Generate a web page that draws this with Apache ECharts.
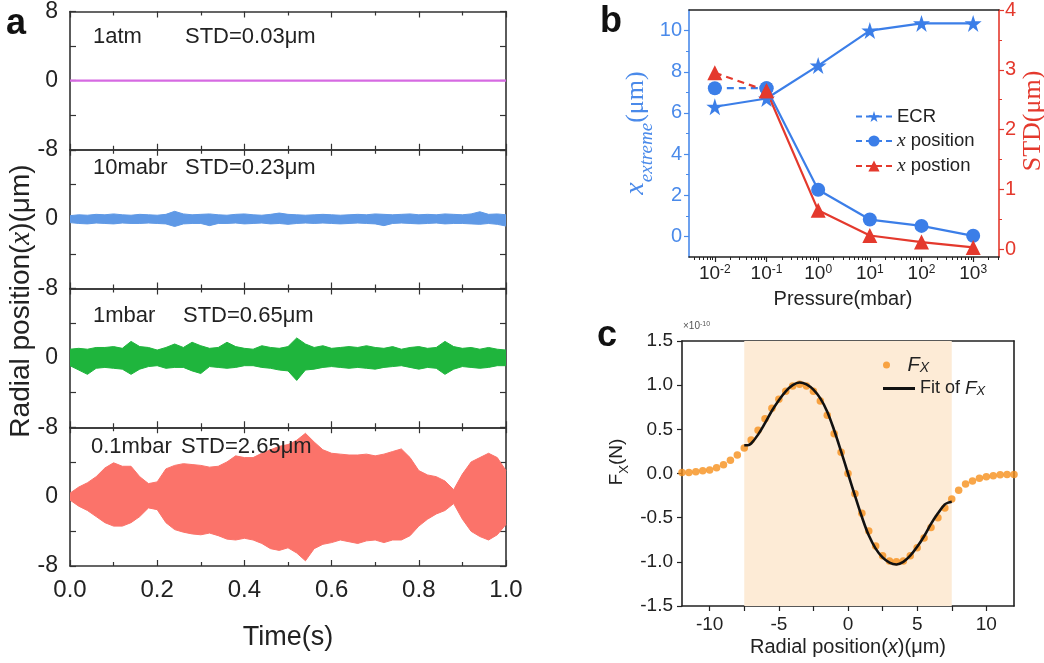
<!DOCTYPE html>
<html>
<head>
<meta charset="utf-8">
<script src="https://cdn.jsdelivr.net/npm/echarts@6.0.0/dist/echarts.min.js"></script>
<style>html,body{margin:0;padding:0;background:#fff;}#chart{width:1044px;height:663px;}</style>
</head>
<body>
<div id="chart"></div>
<script>
// ================= Panel a: radial position traces (envelopes) =================
const timeS = [0,0.02,0.04,0.06,0.08,0.10,0.12,0.14,0.16,0.18,0.20,0.22,0.24,0.26,0.28,0.30,0.32,0.34,0.36,0.38,0.40,0.42,0.44,0.46,0.48,0.50,0.52,0.54,0.56,0.58,0.60,0.62,0.64,0.66,0.68,0.70,0.72,0.74,0.76,0.78,0.80,0.82,0.84,0.86,0.88,0.90,0.92,0.94,0.96,0.98,1.00];
const atmTime = [0, 1];
const atmX = [0, 0];
const mbar10Upper = [0.4,0.5,0.45,0.55,0.5,0.6,0.5,0.45,0.55,0.5,0.45,0.55,0.9,0.6,0.5,0.55,0.6,0.5,0.45,0.55,0.6,0.5,0.45,0.55,0.7,0.55,0.5,0.45,0.5,0.55,0.5,0.45,0.5,0.55,0.5,0.6,0.55,0.5,0.55,0.6,0.5,0.55,0.5,0.6,0.55,0.5,0.6,0.85,0.55,0.6,0.5];
const mbar10Lower = [-0.4,-0.5,-0.55,-0.45,-0.5,-0.55,-0.45,-0.5,-0.5,-0.45,-0.5,-0.55,-0.85,-0.55,-0.5,-0.5,-0.75,-0.5,-0.5,-0.45,-0.55,-0.5,-0.45,-0.55,-0.5,-0.6,-0.5,-0.45,-0.5,-0.45,-0.5,-0.55,-0.5,-0.45,-0.5,-0.55,-0.75,-0.5,-0.45,-0.5,-0.55,-0.5,-0.45,-0.55,-0.5,-0.5,-0.55,-0.6,-0.5,-0.6,-0.8];
const mbar1Upper = [1.0,1.1,1.0,1.2,1.2,1.3,1.1,1.9,1.3,1.2,0.9,1.2,1.6,1.2,1.8,1.4,1.1,1.2,1.8,1.3,1.1,1.0,1.4,1.2,1.1,1.3,2.3,1.6,1.2,1.4,1.1,1.2,1.3,1.2,1.4,1.2,1.1,1.3,1.0,1.2,1.3,1.1,1.2,1.9,1.3,1.1,1.2,1.0,1.2,1.0,0.9];
const mbar1Lower = [-0.9,-1.4,-1.9,-1.2,-1.1,-1.2,-1.3,-1.9,-1.3,-1.0,-0.9,-1.2,-1.1,-1.1,-1.5,-1.8,-1.0,-1.1,-1.2,-1.1,-0.9,-0.9,-1.1,-1.2,-1.4,-1.5,-2.6,-1.4,-1.3,-1.1,-1.0,-1.1,-1.2,-1.1,-1.2,-1.3,-1.1,-1.0,-0.9,-1.1,-1.3,-1.1,-1.2,-1.9,-1.3,-1.0,-1.1,-1.2,-1.1,-0.9,-0.9];
const mbar01Upper = [0.4,1.1,1.6,2.3,3.3,3.9,3.5,3.5,2.3,1.5,1.7,3.2,3.6,3.8,3.7,3.6,3.4,3.5,4.0,4.7,4.5,4.5,5.0,5.4,5.8,6.0,6.5,7.3,6.3,5.4,5.0,4.9,4.8,4.8,4.9,4.7,4.9,5.2,5.5,4.5,3.0,2.5,2.3,1.8,0.8,2.6,4.0,4.5,5.0,4.5,3.0];
const mbar01Lower = [-0.4,-1.1,-1.6,-2.3,-3.0,-3.4,-3.4,-3.0,-2.3,-1.3,-1.5,-3.0,-3.8,-4.1,-4.3,-4.4,-4.2,-4.5,-4.9,-5.0,-4.8,-5.0,-5.4,-6.0,-6.2,-5.9,-6.5,-7.4,-6.0,-5.5,-5.3,-5.0,-5.2,-5.4,-5.1,-5.0,-5.3,-5.0,-5.0,-4.5,-3.4,-2.6,-2.0,-1.6,-0.8,-2.6,-4.0,-4.6,-5.0,-4.4,-3.2];
const aPanelLabels = [['1atm','STD=0.03\u03bcm'],['10mabr','STD=0.23\u03bcm'],['1mbar','STD=0.65\u03bcm'],['0.1mbar','STD=2.65\u03bcm']];

// ================= Panel b =================
const pressureMbar = [0.01, 0.1, 1, 10, 100, 1000];
const ecrExtreme = [6.3, 6.7, 8.3, 10.0, 10.35, 10.35];
const xPositionExtreme = [7.2, 7.2, 2.27, 0.82, 0.51, 0.03];
const stdValues = [2.95, 2.65, 0.65, 0.23, 0.12, 0.03];
const bLeftTicks = [0, 2, 4, 6, 8, 10];
const bLeftMinor = [1, 3, 5, 7, 9];
const bRightTicks = [0, 1, 2, 3, 4];
const bRightMinor = [0.5, 1.5, 2.5, 3.5];
const bDecades = [-2, -1, 0, 1, 2, 3];

// ================= Panel c =================
const fxPosition = [-12,-11.5,-11,-10.5,-10,-9.5,-9,-8.5,-8,-7.5,-7,-6.5,-6,-5.5,-5,-4.5,-4,-3.5,-3,-2.5,-2,-1.5,-1,-0.5,0,0.5,1,1.5,2,2.5,3,3.5,4,4.5,5,5.5,6,6.5,7,7.5,8,8.5,9,9.5,10,10.5,11,11.5,12];
const fxForce = [0.01,0.01,0.02,0.03,0.04,0.065,0.10,0.15,0.21,0.29,0.38,0.49,0.62,0.74,0.84,0.93,0.99,1.01,0.99,0.93,0.82,0.66,0.45,0.24,0.0,-0.23,-0.45,-0.65,-0.82,-0.93,-0.99,-1.0,-0.99,-0.93,-0.84,-0.73,-0.61,-0.5,-0.39,-0.29,-0.19,-0.12,-0.085,-0.055,-0.037,-0.025,-0.015,-0.01,-0.01];
const fitPosition = [-7.5,-7.25,-7,-6.5,-6,-5.5,-5,-4.5,-4,-3.5,-3,-2.5,-2,-1.5,-1,-0.5,0,0.5,1,1.5,2,2.5,3,3.5,4,4.5,5,5.5,6,6.5,7,7.25,7.5];
const fitForce = [0.32,0.32,0.34,0.44,0.57,0.71,0.83,0.93,1.0,1.03,1.01,0.95,0.85,0.70,0.49,0.25,0.0,-0.25,-0.49,-0.70,-0.85,-0.95,-1.01,-1.03,-1.0,-0.93,-0.83,-0.71,-0.57,-0.45,-0.35,-0.33,-0.32];
const cXLabels = [-10, -5, 0, 5, 10];
const cXTicks = [-10, -7.5, -5, -2.5, 0, 2.5, 5, 7.5, 10];
const shadeRange = [-7.5, 7.5];

// ================= Build chart =================
const FONT = 'Liberation Sans, Arial, Helvetica, sans-serif';
const SERIF = 'Liberation Serif, Times New Roman, serif';
const FRAME = '#333';
const BLUE = '#3b7ee8';
const BLUE_AX = '#4a8aea';
const RED = '#e4392d';
const zip = (xs, ys) => xs.map((x, i) => [x, ys[i]]);

const aTops = [11, 149.75, 288.5, 427.25];
const aH = 138.75;
const grids = aTops.map(t => ({ left: 70, width: 436, top: t, height: aH }));
grids.push({ left: 689, width: 310, top: 7, height: 250 });
grids.push({ left: 682, width: 332, top: 341, height: 265 });

const lineSt = (c, w) => ({ color: c, width: w });
const xAxes = [], yAxes = [];
for (let i = 0; i < 4; i++) {
  xAxes.push({ type: 'value', gridIndex: i, position: 'bottom', min: 0, max: 1, interval: 0.2,
    axisLine: { show: true, onZero: false, lineStyle: lineSt(FRAME, 1.6) },
    axisTick: { show: true, inside: true, length: 6, lineStyle: lineSt(FRAME, 1.2) },
    minorTick: { show: true, splitNumber: 2, length: 4, lineStyle: lineSt(FRAME, 1.2) },
    splitLine: { show: false }, minorSplitLine: { show: false },
    axisLabel: { show: i === 3, margin: 12, fontSize: 24, color: '#222', fontFamily: FONT, formatter: v => v.toFixed(1) } });
}
for (let i = 0; i < 4; i++) {
  xAxes.push({ type: 'value', gridIndex: i, position: 'top', min: 0, max: 1, interval: 0.2,
    axisLine: { show: true, onZero: false, lineStyle: lineSt(FRAME, 1.6) },
    axisTick: { show: true, inside: true, length: 6, lineStyle: lineSt(FRAME, 1.2) },
    minorTick: { show: true, splitNumber: 2, length: 4, lineStyle: lineSt(FRAME, 1.2) },
    splitLine: { show: false }, axisLabel: { show: false } });
}
const bMinorX = [];
for (let d = -3; d <= 3; d++) for (let k = 2; k <= 9; k++) { const v = d + Math.log10(k); if (v > -2.5 && v < 3.5) bMinorX.push(v); }
xAxes.push({ type: 'value', gridIndex: 4, position: 'bottom', min: -2.5, max: 3.5,
  axisLine: { show: true, onZero: false, lineStyle: lineSt('#222', 1.6) },
  axisTick: { show: true, length: 5, customValues: bDecades, lineStyle: lineSt('#222', 1.2) },
  splitLine: { show: false },
  axisLabel: { customValues: bDecades, margin: 7, fontSize: 19, color: '#222', fontFamily: FONT,
    formatter: v => '10{sup|' + Math.round(v) + '}',
    rich: { sup: { fontSize: 12, fontFamily: FONT, color: '#222', verticalAlign: 'top', padding: [0, 0, 8, 0] } } } });
xAxes.push({ type: 'value', gridIndex: 4, position: 'bottom', min: -2.5, max: 3.5,
  axisLine: { show: false, onZero: false }, axisLabel: { show: false }, splitLine: { show: false },
  axisTick: { show: true, length: 3, customValues: bMinorX, lineStyle: lineSt('#222', 1) } });
xAxes.push({ type: 'value', gridIndex: 4, position: 'top', min: -2.5, max: 3.5,
  axisLine: { show: true, onZero: false, lineStyle: lineSt('#222', 1.6) }, axisTick: { show: false },
  axisLabel: { show: false }, splitLine: { show: false } });
xAxes.push({ type: 'value', gridIndex: 5, position: 'bottom', min: -12, max: 12,
  axisLine: { show: true, onZero: false, lineStyle: lineSt('#222', 1.6) },
  axisTick: { show: true, length: 5, customValues: cXTicks, lineStyle: lineSt('#222', 1.2) },
  splitLine: { show: false },
  axisLabel: { customValues: cXLabels, margin: 9, fontSize: 19, color: '#222', fontFamily: FONT } });
xAxes.push({ type: 'value', gridIndex: 5, position: 'top', min: -12, max: 12,
  axisLine: { show: true, onZero: false, lineStyle: lineSt('#222', 1.6) }, axisTick: { show: false },
  axisLabel: { show: false }, splitLine: { show: false } });

for (let i = 0; i < 4; i++) {
  yAxes.push({ type: 'value', gridIndex: i, position: 'left', min: -8, max: 8, interval: 4,
    axisLine: { show: true, onZero: false, lineStyle: lineSt(FRAME, 1.6) },
    axisTick: { show: true, inside: true, length: 6, lineStyle: lineSt(FRAME, 1.2) },
    splitLine: { show: false },
    axisLabel: { margin: 12, fontSize: 23, color: '#222', fontFamily: FONT,
      formatter: v => (v === 0 || v === -8 || (v === 8 && i === 0)) ? String(v) : '' } });
}
for (let i = 0; i < 4; i++) {
  yAxes.push({ type: 'value', gridIndex: i, position: 'right', min: -8, max: 8, interval: 4,
    axisLine: { show: true, onZero: false, lineStyle: lineSt(FRAME, 1.6) },
    axisTick: { show: true, inside: true, length: 6, lineStyle: lineSt(FRAME, 1.2) },
    splitLine: { show: false }, axisLabel: { show: false } });
}
yAxes.push({ type: 'value', gridIndex: 4, position: 'left', min: -1, max: 11,
  axisLine: { show: true, onZero: false, lineStyle: lineSt(BLUE_AX, 1.6) },
  axisTick: { show: true, length: 5, customValues: bLeftTicks, lineStyle: lineSt(BLUE_AX, 1.2) },
  splitLine: { show: false },
  axisLabel: { customValues: bLeftTicks, margin: 7, fontSize: 20, color: BLUE_AX, fontFamily: FONT } });
yAxes.push({ type: 'value', gridIndex: 4, position: 'left', min: -1, max: 11,
  axisLine: { show: false, onZero: false }, axisLabel: { show: false }, splitLine: { show: false },
  axisTick: { show: true, length: 3, customValues: bLeftMinor, lineStyle: lineSt(BLUE_AX, 1) } });
yAxes.push({ type: 'value', gridIndex: 4, position: 'right', min: -0.13, max: 4,
  axisLine: { show: true, onZero: false, lineStyle: lineSt(RED, 1.6) },
  axisTick: { show: true, length: 5, customValues: bRightTicks, lineStyle: lineSt(RED, 1.2) },
  splitLine: { show: false },
  axisLabel: { customValues: bRightTicks, margin: 6, fontSize: 20, color: RED, fontFamily: FONT } });
yAxes.push({ type: 'value', gridIndex: 4, position: 'right', min: -0.13, max: 4,
  axisLine: { show: false, onZero: false }, axisLabel: { show: false }, splitLine: { show: false },
  axisTick: { show: true, length: 3, customValues: bRightMinor, lineStyle: lineSt(RED, 1) } });
yAxes.push({ type: 'value', gridIndex: 5, position: 'left', min: -1.5, max: 1.5, interval: 0.5,
  axisLine: { show: true, onZero: false, lineStyle: lineSt('#222', 1.6) },
  axisTick: { show: true, length: 5, lineStyle: lineSt('#222', 1.2) },
  splitLine: { show: false },
  axisLabel: { margin: 9, fontSize: 19, color: '#222', fontFamily: FONT, formatter: v => v.toFixed(1) } });
yAxes.push({ type: 'value', gridIndex: 5, position: 'right', min: -1.5, max: 1.5,
  axisLine: { show: true, onZero: false, lineStyle: lineSt('#222', 1.6) }, axisTick: { show: false },
  axisLabel: { show: false }, splitLine: { show: false } });

const series = [];
series.push({ type: 'line', name: '1atm', xAxisIndex: 0, yAxisIndex: 0, data: zip(atmTime, atmX),
  symbol: 'none', lineStyle: { color: '#d66ae2', width: 2.2 }, silent: true });
const bands = [
  [1, mbar10Upper, mbar10Lower, '#5f99e6'],
  [2, mbar1Upper, mbar1Lower, '#1fb53d'],
  [3, mbar01Upper, mbar01Lower, '#fb736a']
];
bands.forEach(([gi, up, lo, col]) => {
  series.push({ type: 'line', xAxisIndex: gi, yAxisIndex: gi, data: zip(timeS, up), symbol: 'none', silent: true,
    lineStyle: { color: col, width: 1 }, areaStyle: { color: col, opacity: 1, origin: 0 } });
  series.push({ type: 'line', xAxisIndex: gi, yAxisIndex: gi, data: zip(timeS, lo), symbol: 'none', silent: true,
    lineStyle: { color: col, width: 1 }, areaStyle: { color: col, opacity: 1, origin: 0 },
    markLine: { silent: true, symbol: 'none', label: { show: false }, lineStyle: { color: col, width: 2, type: 'solid' },
      data: [{ yAxis: 0 }] } });
});
const logP = pressureMbar.map(p => Math.log10(p));
const STAR = 'path://M50 0 L61.2 34.5 L97.6 34.5 L68.2 55.9 L79.4 90.5 L50 69.1 L20.6 90.5 L31.8 55.9 L2.4 34.5 L38.8 34.5 Z';
series.push({ type: 'line', name: 'ECR', xAxisIndex: 8, yAxisIndex: 8, data: zip(logP, ecrExtreme),
  symbol: STAR, symbolSize: 17, itemStyle: { color: BLUE }, lineStyle: { color: BLUE, width: 2.2 }, z: 3 });
series.push({ type: 'line', name: 'x position', xAxisIndex: 8, yAxisIndex: 8, data: zip(logP, xPositionExtreme).slice(1),
  symbol: 'circle', symbolSize: 14, itemStyle: { color: BLUE }, lineStyle: { color: BLUE, width: 2.2 }, z: 3 });
series.push({ type: 'line', name: 'x position', xAxisIndex: 8, yAxisIndex: 8, data: zip(logP, xPositionExtreme).slice(0, 2),
  symbol: 'circle', symbolSize: 14, itemStyle: { color: BLUE }, lineStyle: { color: BLUE, width: 2.2, type: [7, 5] }, z: 3 });
series.push({ type: 'line', name: 'x postion', xAxisIndex: 8, yAxisIndex: 10, data: zip(logP, stdValues).slice(1),
  symbol: 'triangle', symbolSize: 15, itemStyle: { color: RED }, lineStyle: { color: RED, width: 2.2 }, z: 3 });
series.push({ type: 'line', name: 'x postion', xAxisIndex: 8, yAxisIndex: 10, data: zip(logP, stdValues).slice(0, 2),
  symbol: 'triangle', symbolSize: 15, itemStyle: { color: RED }, lineStyle: { color: RED, width: 2.2, type: [7, 5] }, z: 3 });
series.push({ type: 'line', name: 'shade', xAxisIndex: 11, yAxisIndex: 12, data: [], z: 1, silent: true,
  markArea: { silent: true, itemStyle: { color: '#fdebd6' }, data: [[{ xAxis: shadeRange[0] }, { xAxis: shadeRange[1] }]] } });
series.push({ type: 'scatter', name: 'Fx', xAxisIndex: 11, yAxisIndex: 12, data: zip(fxPosition, fxForce),
  symbol: 'circle', symbolSize: 7.5, itemStyle: { color: '#f6901c' }, z: 3 });
series.push({ type: 'line', name: 'Fit', xAxisIndex: 11, yAxisIndex: 12, data: zip(fitPosition, fitForce),
  symbol: 'none', smooth: 0.35, lineStyle: { color: '#111', width: 2.6 }, itemStyle: { color: '#111' }, z: 4 });

const legends = [
  { data: ['ECR', 'x position', 'x postion'], orient: 'vertical', left: 855, top: 107, padding: 0,
    itemWidth: 36, itemHeight: 14, itemGap: 5, selectedMode: false,
    lineStyle: { type: [6, 4], width: 2 },
    textStyle: { fontSize: 18.5, color: '#222', fontFamily: FONT,
      rich: { i: { fontSize: 19.5, fontFamily: SERIF, fontStyle: 'italic', color: '#222' } } },
    formatter: n => n === 'ECR' ? 'ECR' : '{i|x}' + n.substring(1) },
  { data: ['Fx'], left: 883, top: 355, padding: 0, itemWidth: 32, itemHeight: 7, selectedMode: false,
    textStyle: { fontSize: 19, color: '#222', fontFamily: FONT,
      rich: { i: { fontSize: 20, fontStyle: 'italic', fontFamily: FONT, color: '#222' },
              s: { fontSize: 14, fontStyle: 'italic', fontFamily: FONT, color: '#222', verticalAlign: 'bottom' } } },
    formatter: () => '{i|F}{s|X}' },
  { data: [{ name: 'Fit', icon: 'rect' }], left: 883, top: 379, padding: 0, itemWidth: 32, itemHeight: 3, selectedMode: false,
    textStyle: { fontSize: 18, color: '#222', fontFamily: FONT,
      rich: { i: { fontSize: 19, fontStyle: 'italic', fontFamily: FONT, color: '#222' },
              s: { fontSize: 13, fontStyle: 'italic', fontFamily: FONT, color: '#222', verticalAlign: 'bottom' } } },
    formatter: () => 'Fit of {i|F}{s|X}' }
];

const txt = (text, x, y, st, extra) => Object.assign({ type: 'text', x, y, silent: true, z: 50,
  style: Object.assign({ text, fill: '#222', fontFamily: FONT, fontSize: 20, align: 'left', verticalAlign: 'middle' }, st) }, extra || {});

const graphics = [];
const annotY = [37, 168, 316, 447];
const annotX = [[93, 185], [93, 185], [93, 183], [91, 181]];
aPanelLabels.forEach((pair, i) => {
  graphics.push(txt(pair[0], annotX[i][0], annotY[i], { fontSize: 22 }));
  graphics.push(txt(pair[1], annotX[i][1], annotY[i], { fontSize: 22 }));
});
graphics.push(txt('a', 16, 24, { fontSize: 36, fontWeight: 'bold', align: 'center', fill: '#111' }));
graphics.push(txt('b', 611, 22, { fontSize: 36, fontWeight: 'bold', align: 'center', fill: '#111' }));
graphics.push(txt('c', 607, 336, { fontSize: 36, fontWeight: 'bold', align: 'center', fill: '#111' }));
graphics.push(txt('Radial position({i|x})(\u03bcm)', 21, 301, { fontSize: 28, align: 'center',
  rich: { i: { fontSize: 29, fontFamily: SERIF, fontStyle: 'italic', fill: '#222' } } }, { rotation: Math.PI / 2 }));
graphics.push(txt('Time(s)', 288, 638, { fontSize: 27, align: 'center' }));
graphics.push(txt('Pressure(mbar)', 843, 299, { fontSize: 20, align: 'center' }));
graphics.push(txt('{i|x}{s|extreme}{n|(\u03bcm)}', 636, 133, { align: 'center', fill: BLUE_AX,
  rich: { i: { fontSize: 28, fontFamily: SERIF, fontStyle: 'italic', fill: BLUE_AX },
          s: { fontSize: 19, fontFamily: SERIF, fontStyle: 'italic', fill: BLUE_AX, verticalAlign: 'bottom', padding: [0, 0, -6, 0] },
          n: { fontSize: 26, fontFamily: SERIF, fill: BLUE_AX } } }, { rotation: Math.PI / 2 }));
graphics.push(txt('STD(\u03bcm)', 1033, 121, { fontSize: 26, fontFamily: SERIF, fill: RED, align: 'center' }, { rotation: Math.PI / 2 }));
graphics.push(txt('Radial position({i|x})(\u03bcm)', 848, 647, { fontSize: 20, align: 'center',
  rich: { i: { fontSize: 20, fontStyle: 'italic', fontFamily: FONT, fill: '#222' } } }));
graphics.push(txt('F{s|X}(N)', 617, 462, { fontSize: 19, align: 'center',
  rich: { s: { fontSize: 13, fontFamily: FONT, fill: '#222', verticalAlign: 'bottom', padding: [0, 0, -4, 0] } } }, { rotation: Math.PI / 2 }));
graphics.push(txt('\u00d710{s|-10}', 683, 326, { fontSize: 10, fill: '#555',
  rich: { s: { fontSize: 7, fontFamily: FONT, fill: '#555', verticalAlign: 'top' } } }));

const chart = echarts.init(document.getElementById('chart'), null, { renderer: 'canvas', width: 1044, height: 663 });
chart.setOption({
  animation: false,
  backgroundColor: '#fff',
  grid: grids,
  xAxis: xAxes,
  yAxis: yAxes,
  legend: legends,
  series: series,
  graphic: graphics
});
</script>
</body>
</html>
